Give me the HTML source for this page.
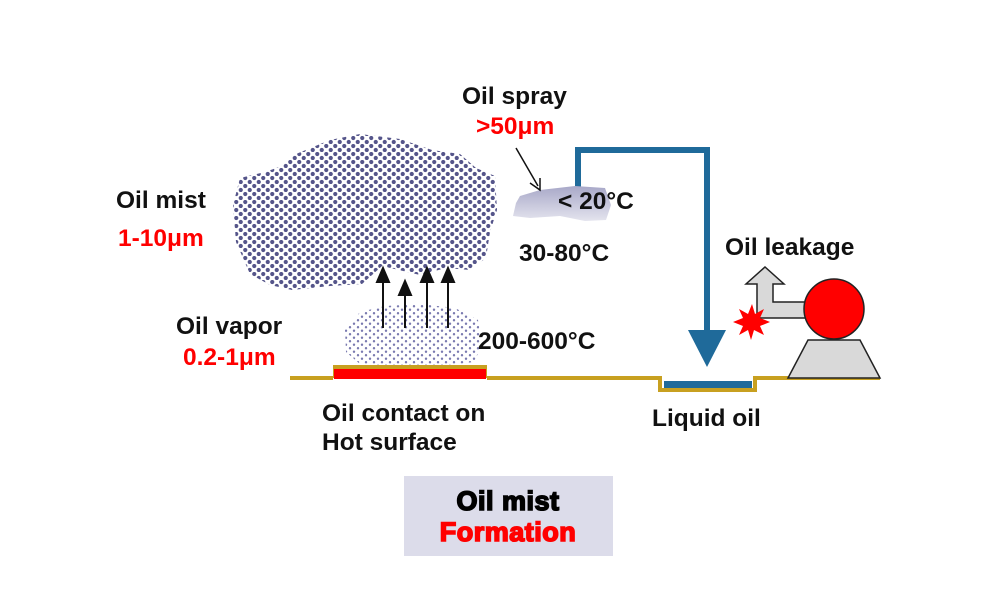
<!DOCTYPE html>
<html><head><meta charset="utf-8"><style>
html,body{margin:0;padding:0;background:#fff;width:1005px;height:601px;overflow:hidden}
text{font-family:"Liberation Sans",Arial,sans-serif;font-weight:bold}
</style></head><body>
<svg width="1005" height="601" viewBox="0 0 1005 601" xmlns="http://www.w3.org/2000/svg">
<defs>
<pattern id="dots" width="9" height="8" patternUnits="userSpaceOnUse">
<circle cx="2.25" cy="2" r="2.1" fill="#55558a"/><circle cx="6.75" cy="6" r="2.1" fill="#55558a"/>
</pattern>
<pattern id="dots2" width="8" height="7" patternUnits="userSpaceOnUse">
<circle cx="2" cy="1.75" r="1.2" fill="#7a7ab0"/><circle cx="6" cy="5.25" r="1.2" fill="#7a7ab0"/>
</pattern>
<linearGradient id="spr" x1="0" y1="0" x2="0" y2="1"><stop offset="0" stop-color="#a8a8c8"/><stop offset="1" stop-color="#e4e4ee"/></linearGradient>
</defs>
<path d="M233,205 L240,178 L265,172 L282,166 L296,154 L330,140 L360,134 L400,139 L432,150 L460,154 L476,168 L495,176 L497,210 L490,232 L486,258 L470,270 L446,268 L420,275 L382,266 L362,284 L330,286 L292,290 L270,285 L250,274 L236,242 Z" fill="url(#dots)"/>
<path d="M345,330 L360,312 L385,306 L420,304 L455,308 L478,320 L482,345 L474,362 L440,366 L400,366 L360,364 L346,352 Z" fill="url(#dots2)"/>
<g stroke="#111" stroke-width="2" fill="#111">
<line x1="383" y1="328" x2="383" y2="278"/><path d="M377,282 L383,268 L389,282 Z"/>
<line x1="405" y1="328" x2="405" y2="291"/><path d="M399,295 L405,281 L411,295 Z"/>
<line x1="427" y1="328" x2="427" y2="278"/><path d="M421,282 L427,268 L433,282 Z"/>
<line x1="448" y1="328" x2="448" y2="278"/><path d="M442,282 L448,268 L454,282 Z"/>
</g>
<path d="M290,378 L333,378 M487,378 L660,378 L660,390 L755,390 L755,378 L880,378" stroke="#c8a020" stroke-width="4" fill="none"/>
<rect x="333" y="365" width="154" height="13" fill="#c8a020"/>
<rect x="334" y="369" width="152" height="10" fill="#f00"/>
<rect x="664" y="381" width="88" height="7" fill="#1f6a9a"/>
<path d="M578,215 L578,150 L707,150 L707,332" stroke="#1f6a9a" stroke-width="6" fill="none"/>
<path d="M688,330 L726,330 L707,367 Z" fill="#1f6a9a"/>
<path d="M516,203 L520,196 L540,190 L575,186 L605,188 L611,205 L606,220 L585,221 L560,216 L530,218 L513,216 Z" fill="url(#spr)"/>
<line x1="516" y1="148" x2="538" y2="186" stroke="#111" stroke-width="1.5"/>
<path d="M530,183 L540,190 L540,178" stroke="#111" stroke-width="1.5" fill="none"/>
<path d="M788,378 L808,340 L860,340 L880,378 Z" fill="#d9d9d9" stroke="#222" stroke-width="1.5"/>
<path d="M812,302 L773,302 L773,284 L784,284 L765,267 L746,284 L757,284 L757,318 L812,318 Z" fill="#d9d9d9" stroke="#222" stroke-width="1.5"/>
<circle cx="834" cy="309" r="30" fill="#f00" stroke="#222" stroke-width="1.5"/>
<path d="M752,304 L755,314 L764,309 L760,318 L770,322 L760,326 L764,335 L754,330 L751,340 L748,330 L739,335 L743,326 L733,322 L743,318 L739,309 L748,314 Z" fill="#f00"/>
<g font-size="24.5" fill="#111">
<text x="116" y="208">Oil mist</text>
<text x="118" y="246" fill="#f00">1-10μm</text>
<text x="176" y="334">Oil vapor</text>
<text x="183" y="365" fill="#f00">0.2-1μm</text>
<text x="462" y="104">Oil spray</text>
<text x="476" y="134" fill="#f00">&gt;50μm</text>
<text x="558" y="209">&lt; 20°C</text>
<text x="519" y="261">30-80°C</text>
<text x="725" y="255">Oil leakage</text>
<text x="478" y="349">200-600°C</text>
<text x="322" y="421">Oil contact on</text>
<text x="322" y="450">Hot surface</text>
<text x="652" y="426">Liquid oil</text>
</g>
<rect x="404" y="476" width="209" height="80" fill="#dcdcea"/>
<text x="508" y="510" text-anchor="middle" font-size="27" fill="#000" stroke="#000" stroke-width="1.6" letter-spacing="0.5">Oil mist</text>
<text x="508" y="541" text-anchor="middle" font-size="27" fill="#f00" stroke="#f00" stroke-width="1.6" letter-spacing="0.5">Formation</text>
</svg>
</body></html>
